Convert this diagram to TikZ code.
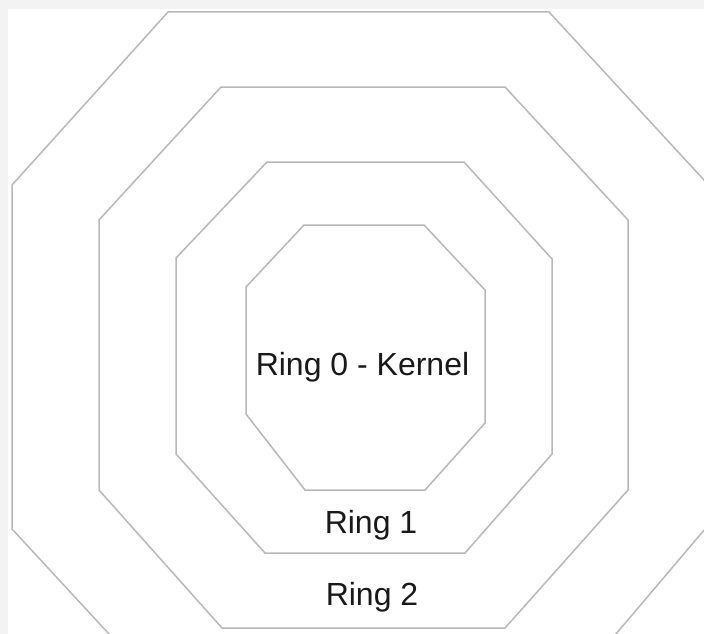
\documentclass[tikz,border=0pt]{standalone}
\usepackage{fontspec}
\setmainfont{Liberation Sans}
\definecolor{ringline}{HTML}{B8B8B8}
\definecolor{edgegray}{HTML}{F3F3F3}
\begin{document}
\begin{tikzpicture}[x=1pt,y=-1pt,
  ringpath/.style={draw=ringline,line width=1.5pt,line join=miter},
  ringlabel/.style={anchor=base,inner sep=0pt,text=black!90,font=\fontsize{32}{37}\selectfont}]
\useasboundingbox (0,0) rectangle (704,634);
\fill[white] (0,0) rectangle (704,634);
\fill[edgegray] (0,0) rectangle (704,9);
\fill[edgegray] (0,0) rectangle (8,634);
\begin{scope}
\clip (0,0) rectangle (704,634);
% outer ring
\draw[ringpath] (168,12) -- (549,12) -- (716,193) -- (716,516) -- (560,700) -- (170,700) -- (12,529) -- (12,185) -- cycle;
\end{scope}
% ring 2 boundary
\draw[ringpath] (221,87) -- (505,87) -- (628,220) -- (628,490) -- (505,628) -- (222,628) -- (99,490) -- (99,220) -- cycle;
% ring 1 boundary
\draw[ringpath] (267,162) -- (464,162) -- (552,259) -- (552,454) -- (465,553) -- (265,553) -- (176,454) -- (176,258) -- cycle;
% kernel
\draw[ringpath] (304,225) -- (424,225) -- (485,290) -- (485,423) -- (425,490) -- (305,490) -- (246,414) -- (246,287) -- cycle;
\node[ringlabel] (r0) at (362.5,375) {Ring 0 - Kernel};
\node[ringlabel] (r1) at (371,533) {Ring 1};
\node[ringlabel] (r2) at (372,605) {Ring 2};
\end{tikzpicture}
\end{document}
